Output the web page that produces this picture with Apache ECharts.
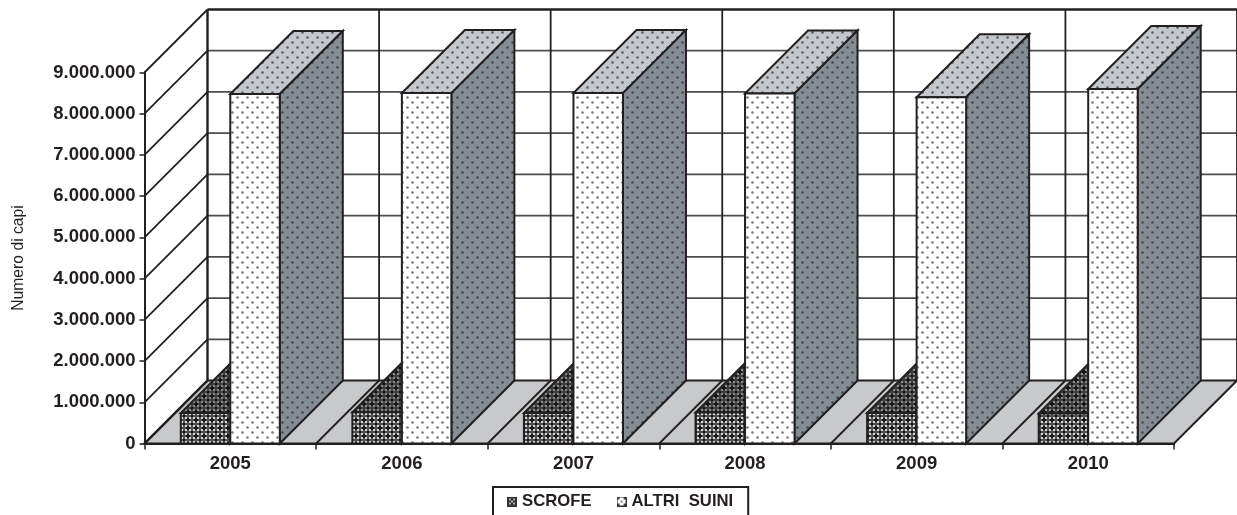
<!DOCTYPE html>
<html><head><meta charset="utf-8">
<style>html,body{margin:0;padding:0;background:#fff}#c{width:1237px;height:515px}</style>
<script src="https://cdn.jsdelivr.net/npm/echarts@6/dist/echarts.min.js"></script>
</head><body><div id="c"></div>
<script>
const years = ['2005','2006','2007','2008','2009','2010'];
const scrofe = [740000,760000,740000,750000,740000,730000];
const altriSuini = [8480000,8500000,8500000,8490000,8400000,8600000];
const yTicks = [0,1000000,2000000,3000000,4000000,5000000,6000000,7000000,8000000,9000000];

const DEPTH = 63, BAR_FRAC = 0.2885, INK = '#231f20', FLOOR = '#c8c9cb';

function tile(size, draw){
  const c = document.createElement('canvas'); c.width = c.height = size;
  draw(c.getContext('2d'), size); return c;
}
function dots(bg, fg){
  return tile(10, (g)=>{
    g.fillStyle = bg; g.fillRect(0,0,10,10);
    g.fillStyle = fg;
    [[2,2],[7,7]].forEach(([x,y])=>{ g.beginPath(); g.arc(x+.5,y+.5,1.3,0,7); g.fill(); });
  });
}
function lattice(bg, light, dark){
  return tile(8, (g)=>{
    g.fillStyle = bg; g.fillRect(0,0,8,8);
    g.fillStyle = light;
    [[1,1],[5,1],[1,5],[5,5]].forEach(([x,y])=>g.fillRect(x,y,2,2));
    g.fillStyle = dark;
    g.fillRect(3,3,2,2); g.fillRect(3,2,2,1); g.fillRect(3,5,2,1); g.fillRect(2,3,1,2); g.fillRect(5,3,1,2);
    g.fillRect(7,7,1,1); g.fillRect(0,7,1,1); g.fillRect(7,0,1,1); g.fillRect(0,0,1,1);
  });
}
const pat = (image)=>({image, repeat:'repeat'});
const pDotFront = pat(dots('#ffffff','#77787b'));
const pDotTop = pat(dots('#c4c8cc','#5a5e61'));
const pDotSide = pat(dots('#858d94','#474b4e'));
const pLatFront = pat(lattice('#505050','#d8d8d8','#161616'));
const pLatTop = pat(lattice('#3e3e3e','#8a8a8a','#161616'));

function legendIcon(bg, drawFn){
  const c = document.createElement('canvas'); c.width = c.height = 10;
  const g = c.getContext('2d');
  g.fillStyle = bg; g.fillRect(0,0,10,10);
  drawFn(g);
  return 'image://' + c.toDataURL();
}
const iconScrofe = legendIcon('#333', g=>{
  g.fillStyle='#aaa'; [[2,2],[6,2],[2,6],[6,6],[4,4]].forEach(([x,y])=>g.fillRect(x,y,2,2));
});
const iconAltri = legendIcon('#333', g=>{
  g.fillStyle='#fff'; g.fillRect(1,1,8,8);
  g.fillStyle='#444'; [[1,1],[7,1],[1,7],[7,7]].forEach(([x,y])=>g.fillRect(x,y,2,2));
  g.fillStyle='#888'; g.fillRect(4,4,2,2);
});

function poly(points, fill, lw, z2){
  return {type:'polygon', shape:{points}, z2:z2||0,
    style:{fill, stroke:INK, lineWidth:lw===undefined?2:lw, lineJoin:'miter'}};
}
function seg(a, b, lw, color){
  return {type:'line', shape:{x1:a[0],y1:a[1],x2:b[0],y2:b[1]},
    style:{stroke:color||INK, lineWidth:lw, fill:null}};
}
const back = (p)=>[p[0]+DEPTH, p[1]-DEPTH];

function renderWalls(params, api){
  const cw = api.size([1,0])[0];
  const left = api.coord([0,0])[0] - cw/2;
  const right = left + cw*years.length;
  const y0 = api.coord([0,0])[1];
  const ch = [];
  const fl = [[left,y0],[right,y0]];
  ch.push(poly([fl[0],fl[1],back(fl[1]),back(fl[0])], FLOOR, 2));
  const topTick = yTicks[yTicks.length-1];
  yTicks.forEach((t)=>{
    const y = api.coord([0,t])[1];
    if (t>0) ch.push(seg(back([left,y]), back([right,y]), t===topTick?2.6:1.8, t===topTick?INK:'#4d4d4f'));
    ch.push(seg([left,y], back([left,y]), t===0?2.4:1.8));
  });
  const yTop = api.coord([0,topTick])[1];
  for (let i=0;i<=years.length;i++){
    const x = left + cw*i;
    if (i>0 && i<years.length) ch.push(seg([x,y0], back([x,y0]), 1.8));
    ch.push(seg(back([x,y0]), back([x,yTop]), i===0?2.4:1.8));
  }
  return {type:'group', children:ch};
}
function box(api, shift, faces){
  const i = api.value(0), v = api.value(1);
  const cw = api.size([1,0])[0], w = cw*BAR_FRAC;
  const cx = api.coord([i,0])[0], y0 = api.coord([i,0])[1], yv = api.coord([i,v])[1];
  const x0 = cx + shift*w, x1 = x0 + w;
  const fbl=[x0,y0], fbr=[x1,y0], ftl=[x0,yv], ftr=[x1,yv];
  const ch = [];
  ch.push(poly([ftl,ftr,back(ftr),back(ftl)], faces.top));
  ch.push(poly([fbr,ftr,back(ftr),back(fbr)], faces.side));
  ch.push(poly([fbl,fbr,ftr,ftl], faces.front));
  return {type:'group', children:ch};
}

const chart = echarts.init(document.getElementById('c'), null, {renderer:'canvas'});
const font = 'Liberation Sans, Arial, sans-serif';
chart.setOption({
  animation:false,
  backgroundColor:'#ffffff',
  grid:{left:144.5, right:63, top:72.5, bottom:71.5, containLabel:false, outerBoundsMode:'none'},
  xAxis:{type:'category', data:years, boundaryGap:true, z:5,
    axisLine:{lineStyle:{color:INK,width:2}},
    axisTick:{show:true, alignWithLabel:false, length:6, lineStyle:{color:INK,width:1.5}},
    axisLabel:{color:INK, fontFamily:font, fontWeight:'bold', fontSize:18.5, margin:11, interval:0}},
  yAxis:{type:'value', min:0, max:9000000, interval:1000000, z:5,
    name:'Numero di capi', nameLocation:'middle', nameGap:118,
    nameTextStyle:{color:INK, fontFamily:font, fontSize:15.7},
    axisLine:{show:true, lineStyle:{color:INK,width:2}},
    axisTick:{show:true, length:5, lineStyle:{color:INK,width:1.5}},
    splitLine:{show:false},
    axisLabel:{color:INK, fontFamily:font, fontWeight:'bold', fontSize:18.5, margin:9,
      formatter:(v)=>String(v).replace(/\B(?=(\d{3})+$)/g,'.')}},
  legend:{left:493, top:487, orient:'horizontal', selectedMode:false,
    padding:[6,15,14,14], itemGap:25, itemWidth:10, itemHeight:10,
    borderColor:INK, borderWidth:2, backgroundColor:'#fff',
    textStyle:{color:INK, fontFamily:font, fontWeight:'bold', fontSize:16.7},
    data:[{name:'SCROFE', icon:iconScrofe},{name:'ALTRI  SUINI', icon:iconAltri}]},
  series:[
    {type:'custom', name:'walls', z:1, silent:true, clip:false, data:[[0,0]], renderItem:renderWalls, coordinateSystem:'cartesian2d', encode:{x:0,y:1}},
    {type:'custom', name:'SCROFE', z:2, clip:false, coordinateSystem:'cartesian2d', encode:{x:0,y:1},
      data:scrofe.map((v,i)=>[i,v]),
      renderItem:(p,api)=>box(api,-1,{front:pLatFront,top:pLatTop,side:pLatTop})},
    {type:'custom', name:'ALTRI  SUINI', z:3, clip:false, coordinateSystem:'cartesian2d', encode:{x:0,y:1},
      data:altriSuini.map((v,i)=>[i,v]),
      renderItem:(p,api)=>box(api,0,{front:pDotFront,top:pDotTop,side:pDotSide})}
  ]
});
</script></body></html>
